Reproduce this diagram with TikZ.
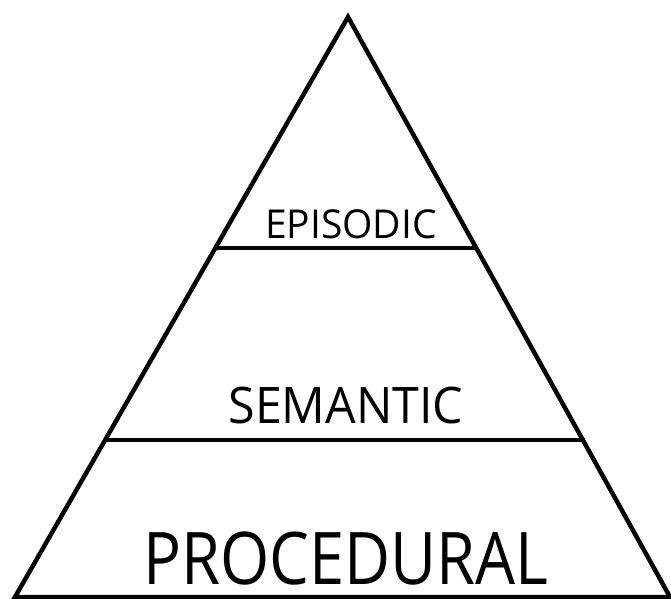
\documentclass[tikz,border=0pt]{standalone}
\usepackage{fontspec}
\setmainfont{Open Sans}
\usepackage{tikz}

\begin{document}
\begin{tikzpicture}[x = 0.03cm, y = 0.03cm, line width = 3.8pt]
      \useasboundingbox (0, 0) rectangle (671, 599);
      \coordinate (top) at (348, 582);
      \coordinate (bl) at (15, 2);
      \coordinate (br) at (670, 2);
      \coordinate (el) at (216, 351);
      \coordinate (er) at (477, 351);
      \coordinate (sl) at (106, 159);
      \coordinate (sr) at (585, 159);
      \draw [line join = miter] (bl) -- (top) -- (br) -- cycle;
      \draw (el) -- (er);
      \draw (sl) -- (sr);
      \node (episodic) [anchor = base, inner sep = 0pt, text depth = 0pt] at (351, 360) {\scalebox{0.98}[1]{\fontsize{34}{40}\selectfont EPISODIC}};
      \node (semantic) [anchor = base, inner sep = 0pt, text depth = 0pt] at (346, 175) {\scalebox{0.96}[1]{\fontsize{43}{50}\selectfont SEMANTIC}};
      \node (procedural) [anchor = base, inner sep = 0pt, text depth = 0pt] at (346, 14) {\scalebox{0.87}[1]{\fontsize{62}{70}\selectfont PROCEDURAL}};
    \end{tikzpicture}
\end{document}
